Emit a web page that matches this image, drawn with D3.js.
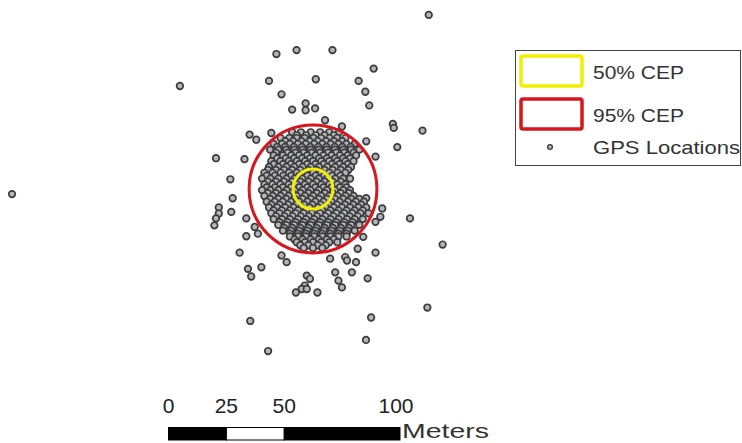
<!DOCTYPE html>
<html><head><meta charset="utf-8">
<script src="https://cdn.jsdelivr.net/npm/d3@7/dist/d3.min.js"></script>
<style>body{margin:0;background:#fff}svg{display:block}</style>
</head><body><svg id="c" width="742" height="443"></svg>
<script>
// GPS locations, metres east/north of the mean position (outlying fixes)
const outX = [50.0,-57.5,-130,-15.8,-7.1,8.4,26.2,-19,1.2,19.7,22.6,-13.6,24.3,-9,-3.2,-3.2,0.9,5.2,12.5,34.5,34.9,47.3,36.4,23,27,-27.4,-24.5,-18,-41.9,-29.6,-35.7,-34.7,-40.7,-40.7,-41.9,-42.6,-35.3,-28.8,-25.2,-23.8,-28.8,-31.7,-28.1,-26.7,-22.3,-13.6,-11.4,-2.7,-1.3,-3.5,-4.9,-7.4,-2.7,1.9,7.4,9.6,11,12.5,13.9,14.7,16.8,18.6,19.3,27,23.6,56,41.9,49.4,25.1,-27.1,22.9,-19.4,23,29.9,29.1,27,21.7];
const outY = [75.2,44.5,-2.2,58.3,60,60,52,46.7,47.4,46.7,42,40.9,36.1,34.3,37,34,34.8,29.7,27,28.1,26.4,25.2,18.1,20.6,14,23.5,21.3,24.2,13.3,12.9,4.2,-4,-8,-10.6,-12.7,-15.7,-9.9,-12.7,-16.4,-19.3,-20.4,-27.5,-34.5,-37.8,-33.8,-28.7,-31.6,-37.4,-38.8,-41.7,-43.2,-44.7,-43.2,-44.7,-30.1,-36,-39.6,-42.5,-29.4,-30.9,-36,-31.6,-25.8,-27.5,-38.6,-24,-12.7,-51.2,-55.5,-57,-65.2,-70,-4,-8.4,-12,-14.2,-20.7];
// dense core of fixes: northing of each row and the eastings on it
const coreRowY = [24.5,23.2,22,20.7,19.5,18.2,17,15.7,14.5,13.2,12,10.7,9.5,8.2,7,5.7,4.5,3.2,2,0.7,-0.5,-1.8,-3,-4.3,-5.5,-6.8,-8,-9.3,-10.5,-11.8,-13,-14.3,-15.5,-16.8,-18,-19.3,-20.5,-21.8,-23,-24.3,-25.5];
const coreRowX = [
  [-9,-5.2,-1,3.1,7,11.2],
  [-7,-3,1.2,5,9],
  [-14,-10.3,-7,-3.6,0.2,3.5,7.1,10.4,14],
  [-12,-8.6,-5,-1.5,2,5.6,9,12.5],
  [-17,-13.4,-10,-6.5,-3.1,0.5,4,7.6,11,14.4,18],
  [-15.5,-12,-8.3,-4.8,-1.2,2.3,5.8,9.4,12.7,16.3],
  [-18.5,-15,-11.6,-8,-4.4,-1,2.6,6,9.5,13.1,16.5,20],
  [-16,-11,-7.5,-4,-0.6,3,6.5,10,13.5,17.5],
  [-17,-13,-9.4,-6,-2.5,1.1,4.5,8,11.6,15,18.6],
  [-15.5,-11.8,-8.2,-4.7,-1.3,2.6,6,9.5,13,16],
  [-18,-14.1,-10.5,-7,-3.4,0,3.6,7,10.4,14,17.5],
  [-17,-13,-9.6,-6,-2.5,1.1,4.6,8.2,11.5,15],
  [-19,-15,-11.5,-8.1,-4.5,-1,2.5,6.1,9.5,13,16.4],
  [-19.5,-16,-12.5,-9,-5.5,-2,1.5,5,8.5,12,15.2],
  [-21,-17.5,-14,-10.4,-7,-3.5,0.1,3.5,7,10.6,14],
  [-20,-16.5,-12.8,-9.4,-5.9,-2.4,1.2,4.8,8.3,11.8],
  [-22,-18.4,-15,-11.5,-8,-4.6,-1,2.5,6,9.6,13,16],
  [-19.5,-16,-12.5,-9,-5.5,-2,1.5,5,8.5,12],
  [-21,-17.5,-14.1,-10.5,-7,-3.5,0,3.6,7,10.5,14],
  [-20,-16.4,-13,-9.5,-6,-2.5,1,4.5,8,11.6,14.5],
  [-22,-18.5,-15,-11.4,-8,-4.5,-1.1,2.5,6,9.4,13,16],
  [-19.5,-16,-12.5,-9,-5.4,-2,1.6,5.1,8.5,12,15.5],
  [-21,-17.4,-14,-10.5,-7.1,-3.5,0,3.5,7,10.6,14,17.5],
  [-18.5,-15,-11.5,-8,-4.5,-1,2.5,6,9.5,13,16.5,20],
  [-20,-16.5,-13.1,-9.5,-6,-2.4,1,4.5,8,11.5,15.1,18.5,22],
  [-18,-14.5,-10.8,-7.3,-3.8,-0.3,3.3,6.8,10.3,13.8,17.3,20.8],
  [-19,-15.5,-12,-8.4,-5,-1.5,2.1,5.5,9,12.5,16,19.6,23],
  [-17,-13.5,-10,-6.5,-3,0.6,4,7.5,11,14.5,18,21.5],
  [-18,-14.5,-11,-7.5,-4.1,-0.5,3,6.5,10.1,13.5,17,20.5,24],
  [-16,-12.3,-8.8,-5.3,-1.8,1.7,5.3,8.8,12.3,15.8,19.3],
  [-17,-13.4,-10,-6.5,-3,0.5,4,7.5,11,14.6,18,21.5],
  [-14.5,-11,-7.5,-4,-0.5,3,6.5,10,13.5,17],
  [-15,-11.5,-8.1,-4.5,-1,2.5,6,9.5,13.1,16.5,20],
  [-12.5,-9,-5.5,-2,1.5,5,8.5,12,15.5],
  [-13,-9.5,-6,-2.5,1,4.6,8,11.5,15,18],
  [-10,-6.5,-3,0.5,4,7.5,11,14.5],
  [-10,-6.5,-3.1,0.5,4,7.5,11,14.5],
  [-8,-4.5,-1,2.5,6,9],
  [-7,-3.5,0,3.5,7,10.5],
  [-5.5,-2,2,5.5],
  [-4,0,4]
];
const cepRadius = [8.6, 27.6];       // 50% and 95% CEP, metres
const cepLabels = ["50% CEP", "95% CEP"];
const cepColors = ["#f2f000", "#d8161d"];
const scaleTicks = [0, 25, 50, 100];

const svg = d3.select("#c");
const x = d3.scaleLinear().domain([-60, 40]).range([174.1, 405.6]);
const y = d3.scaleLinear().domain([-70, 80]).range([351.05, 3.8]);

const pts = [];
outX.forEach((v, i) => pts.push([v, outY[i]]));
coreRowY.forEach((ry, i) => coreRowX[i].forEach(rx => pts.push([rx, ry])));

svg.append("g").selectAll("circle").data(pts).join("circle")
  .attr("cx", d => x(d[0])).attr("cy", d => y(d[1])).attr("r", 3.3)
  .attr("fill", "#b4b6bc").attr("stroke", "#3c3c3c").attr("stroke-width", 1.7);

// CEP circles
svg.append("g").selectAll("circle").data(cepRadius.slice().reverse()).join("circle")
  .attr("cx", x(0)).attr("cy", y(0))
  .attr("r", d => x(d) - x(0))
  .attr("fill", "none")
  .attr("stroke", (d, i) => cepColors.slice().reverse()[i])
  .attr("stroke-width", 3);

// Legend
const lg = svg.append("g");
lg.append("rect").attr("x", 515.5).attr("y", 50.5).attr("width", 225).attr("height", 115)
  .attr("fill", "#fff").attr("stroke", "#444").attr("stroke-width", 1);
const ly = [55, 98];
cepLabels.forEach((t, i) => {
  lg.append("rect").attr("x", 521).attr("y", ly[i] + 1).attr("width", 61).attr("height", 30)
    .attr("rx", 2).attr("fill", "none").attr("stroke", cepColors[i]).attr("stroke-width", 3.5);
  lg.append("text").attr("x", 593).attr("y", ly[i] + 24).text(t)
    .attr("font-family", "Liberation Sans, Arial, sans-serif").attr("font-size", 18.5)
    .attr("fill", "#333").attr("textLength", 91).attr("lengthAdjust", "spacingAndGlyphs");
});
lg.append("circle").attr("cx", 550).attr("cy", 147).attr("r", 2.4)
  .attr("fill", "#b4b6bc").attr("stroke", "#3c3c3c").attr("stroke-width", 1.3);
lg.append("text").attr("x", 593).attr("y", 154).text("GPS Locations")
  .attr("font-family", "Liberation Sans, Arial, sans-serif").attr("font-size", 18.5)
  .attr("fill", "#333").attr("textLength", 147).attr("lengthAdjust", "spacingAndGlyphs");

// Scale bar
const sb = d3.scaleLinear().domain([0, 100]).range([168.5, 400]);
const segs = [[0, 25, "#000"], [25, 50, "#fff"], [50, 100, "#000"]];
svg.append("g").selectAll("rect").data(segs).join("rect")
  .attr("x", d => sb(d[0])).attr("y", 427.5).attr("width", d => sb(d[1]) - sb(d[0])).attr("height", 12.5)
  .attr("fill", d => d[2]).attr("stroke", "#000").attr("stroke-width", 1);
svg.append("g").selectAll("text").data(scaleTicks).join("text")
  .attr("x", d => sb(d) - (d === 100 ? 4 : 0)).attr("y", 413).attr("text-anchor", "middle")
  .attr("font-family", "Liberation Sans, Arial, sans-serif").attr("font-size", 21)
  .attr("fill", "#222").text(d => d);
svg.append("text").attr("x", 402).attr("y", 438).text("Meters")
  .attr("font-family", "Liberation Sans, Arial, sans-serif").attr("font-size", 20)
  .attr("fill", "#333").attr("textLength", 87).attr("lengthAdjust", "spacingAndGlyphs");
</script></body></html>
